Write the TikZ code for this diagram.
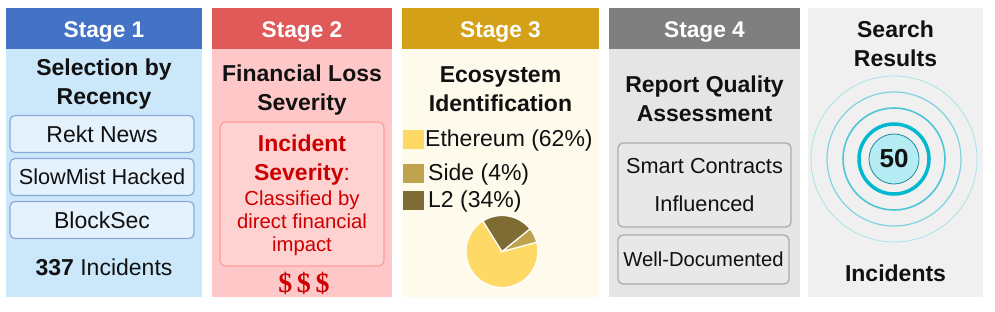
\documentclass[tikz,border=0pt]{standalone}
\usepackage{fontspec}
\setmainfont{Liberation Sans}
\newfontfamily\dollarfont{Liberation Serif}
\usepackage{tikz}
\usetikzlibrary{positioning}
\definecolor{ink}{HTML}{111111}
\definecolor{head1}{HTML}{4472C4}
\definecolor{head2}{HTML}{E05A5A}
\definecolor{head3}{HTML}{D4A017}
\definecolor{head4}{HTML}{7F7F7F}
\definecolor{body1}{HTML}{CBE8FB}
\definecolor{body2}{HTML}{FFC8C8}
\definecolor{body3}{HTML}{FEFAEC}
\definecolor{body4}{HTML}{E5E5E5}
\definecolor{body5}{HTML}{F0F0F0}
\definecolor{srcFill}{HTML}{E4F2FD}
\definecolor{srcLine}{HTML}{8AA8D8}
\definecolor{sevFill}{HTML}{FFD2D2}
\definecolor{sevLine}{HTML}{FF9C9C}
\definecolor{sevText}{HTML}{CC0000}
\definecolor{qualFill}{HTML}{E8E8E8}
\definecolor{qualLine}{HTML}{ABABAB}
\definecolor{ethCol}{HTML}{FFD966}
\definecolor{sideCol}{HTML}{BFA24E}
\definecolor{ltwoCol}{HTML}{7F6B34}
\definecolor{ringA}{HTML}{A6E3EA}
\definecolor{ringB}{HTML}{7FD4E0}
\definecolor{ringC}{HTML}{50C5D6}
\definecolor{ringD}{HTML}{00B8CF}
\definecolor{coreFill}{HTML}{B5EBF3}
\definecolor{coreLine}{HTML}{1E8C98}

\tikzset{
  panel/.style={minimum height=289,inner sep=0pt,anchor=north},
  stagehead/.style={minimum height=41,inner sep=0pt,anchor=north,text=white,
    text height=16.6pt,text depth=0pt,font=\fontsize{22.7}{26}\selectfont\bfseries},
  stagetitle/.style={align=center,inner sep=0pt,text=ink,font=\fontsize{23}{29}\selectfont\bfseries},
  srcbox/.style={draw=srcLine,fill=srcFill,line width=1.2pt,rounded corners=5pt,
    minimum width=184,minimum height=37,inner sep=0pt,text=ink,font=\fontsize{23}{27}\selectfont},
  qualbox/.style={draw=qualLine,fill=qualFill,line width=1.3pt,rounded corners=5pt,
    inner sep=0pt,align=center,text=ink},
  legkey/.style={minimum width=21,minimum height=19,inner sep=0pt},
  legtext/.style={anchor=west,inner sep=0pt,text=ink,font=\fontsize{23}{27}\selectfont},
  slice/.style={draw=white,line width=1.2pt}
}

\begin{document}
\begin{tikzpicture}[x=1pt,y=1pt]
  \useasboundingbox (0,0) rectangle (995,-311);

  % four stage panels with coloured headers
  \foreach \i/\cx/\w in {1/104/196,2/302/180,3/500.5/197,4/704.5/191}{
    \node[panel,minimum width=\w,fill=body\i] (p\i) at (\cx,-8) {};
    \node[stagehead,minimum width=\w,fill=head\i] (h\i) at (p\i.north) {Stage \i};
  }
  \node[panel,minimum width=175,fill=body5] (p5) at (895.5,-8) {};

  % stage 1
  \node[stagetitle] (selt) at (104,-83.8) {Selection by\\Recency};
  \node[srcbox] (rekt) at (102,-134) {Rekt News};
  \node[srcbox,font=\fontsize{21.7}{26}\selectfont] (slow) at (102,-177) {SlowMist Hacked};
  \node[srcbox] (bsec) at (102,-220) {BlockSec};
  \node[inner sep=0pt,text=ink,font=\fontsize{23}{27}\selectfont] (cnt1) at (104,-267)
    {\textbf{337} Incidents};

  % stage 2
  \node[stagetitle] (lost) at (302,-89.8) {Financial Loss\\Severity};
  \node[draw=sevLine,fill=sevFill,line width=1.2pt,rounded corners=6pt,
        minimum width=164,minimum height=144,inner sep=0pt] (sevb) at (302,-194) {};
  \node[stagetitle,text=sevText] (sevh) at (302,-159.8) {Incident\\Severity{\mdseries:}};
  \node[align=center,inner sep=0pt,text=sevText,font=\fontsize{20.3}{23}\selectfont]
    (sevd) at (302,-223) {Classified by\\direct financial\\impact};
  \node[inner sep=0pt,text=sevText,font=\dollarfont\fontsize{28}{30}\selectfont\bfseries]
    (cash) at (304,-283) {\$\,\$\,\$};

  % stage 3
  \node[stagetitle] (ecot) at (500.5,-88.9) {Ecosystem\\Identification};
  \node[legkey,fill=ethCol] (keth) at (413.5,-139.5) {};
  \node[legkey,fill=sideCol] (kside) at (413.5,-173) {};
  \node[legkey,fill=ltwoCol] (kltwo) at (413.5,-200) {};
  \node[legtext] (teth) at (425,-141) {Ethereum (62\%)};
  \node[legtext] (tside) at (428,-174.5) {Side (4\%)};
  \node[legtext] (tltwo) at (428,-201.5) {L2 (34\%)};
  \coordinate (pc) at (502,-251.5);
  \filldraw[slice,fill=ethCol] (pc) -- ++(122:36) arc[start angle=122,end angle=375,radius=36] -- cycle;
  \filldraw[slice,fill=sideCol] (pc) -- ++(15:36) arc[start angle=15,end angle=39,radius=36] -- cycle;
  \filldraw[slice,fill=ltwoCol] (pc) -- ++(39:36) arc[start angle=39,end angle=122,radius=36] -- cycle;

  % stage 4
  \node[stagetitle] (qual) at (704.5,-99) {Report Quality\\Assessment};
  \node[qualbox,minimum width=173,minimum height=84,font=\fontsize{21.7}{38}\selectfont]
    (scin) at (704.5,-185) {Smart Contracts\\Influenced};
  \node[qualbox,minimum width=171,minimum height=49,font=\fontsize{20.2}{24}\selectfont]
    (wdoc) at (703.5,-259.5) {Well-Documented};

  % search results
  \node[stagetitle,text=ink] (srch) at (895.5,-43.5) {Search\\Results};
  \coordinate (tc) at (894,-159);
  \foreach \r/\c/\lw in {83/ringA/0.8,67/ringB/1.2,51/ringC/1.6,35/ringD/3.5}
    \draw[\c,line width=\lw pt] (tc) circle[radius=\r];
  \node[circle,minimum size=50,inner sep=0pt,fill=coreFill,draw=coreLine,line width=0.8pt,
        text=ink,font=\fontsize{26}{30}\selectfont\bfseries] (fifty) at (tc) {50};
  \node[inner sep=0pt,text=ink,font=\fontsize{23}{27}\selectfont\bfseries] (inct) at (895.5,-273) {Incidents};
\end{tikzpicture}
\end{document}
